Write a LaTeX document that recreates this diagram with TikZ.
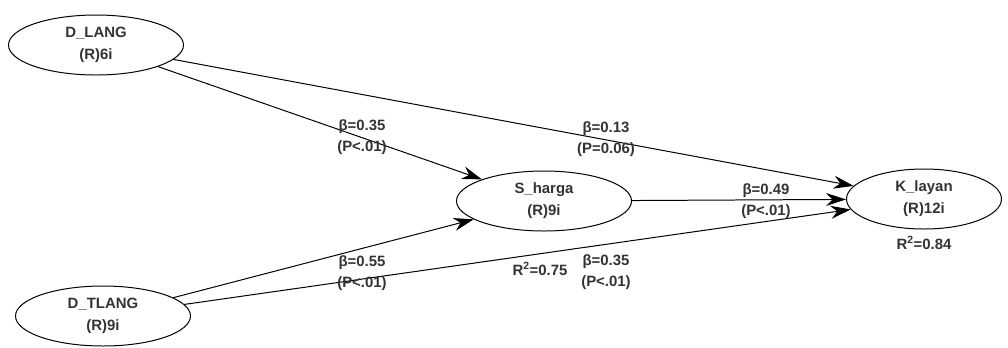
\documentclass[tikz,border=0pt]{standalone}
\usepackage{fontspec}
\setmainfont{Liberation Sans}
\usepackage{tikz}
\usetikzlibrary{arrows.meta,shapes.geometric,positioning}
\definecolor{txtgray}{HTML}{333333}

\begin{document}
\begin{tikzpicture}[x=1bp,y=-1bp,
  lv/.style={ellipse,draw,line width=1pt,minimum width=175bp,minimum height=60bp,
    align=center,font=\fontsize{15}{22}\selectfont\bfseries,text=txtgray,inner sep=0pt},
  path/.style={line width=1pt,-{Stealth[length=20bp,width=13bp]}},
  coef/.style={align=center,font=\fontsize{15}{21}\selectfont\bfseries,text=txtgray,inner sep=0pt}]
\useasboundingbox (0,0) rectangle (1008,347);
\node[lv] (dlang) at (96,45) {D\_LANG\\(R)6i};
\node[lv] (dtlang) at (103,316) {D\_TLANG\\(R)9i};
\node[lv] (sharga) at (544,201) {S\_harga\\(R)9i};
\node[lv,minimum width=155bp] (klayan) at (924,199) {K\_layan\\(R)12i};
\draw[path] (dlang) -- (sharga);
\draw[path] (dlang) -- (klayan);
\draw[path] (dtlang) -- (sharga);
\draw[path] (dtlang) -- (klayan);
\draw[path] (sharga) -- (klayan);
% koefisien jalur
\node[coef] (c1) at (362,137) {β=0.35\\(P<.01)};
\node[coef] (c2) at (606,139) {β=0.13\\(P=0.06)};
\node[coef] (c3) at (362,273) {β=0.55\\(P<.01)};
\node[coef] (c4) at (606,272) {β=0.35\\(P<.01)};
\node[coef] (c5) at (766,201) {β=0.49\\(P<.01)};
\node[coef] (r1) at (540,269) {R\textsuperscript{2}=0.75};
\node[coef] (r2) at (924,243) {R\textsuperscript{2}=0.84};
\end{tikzpicture}
\end{document}
